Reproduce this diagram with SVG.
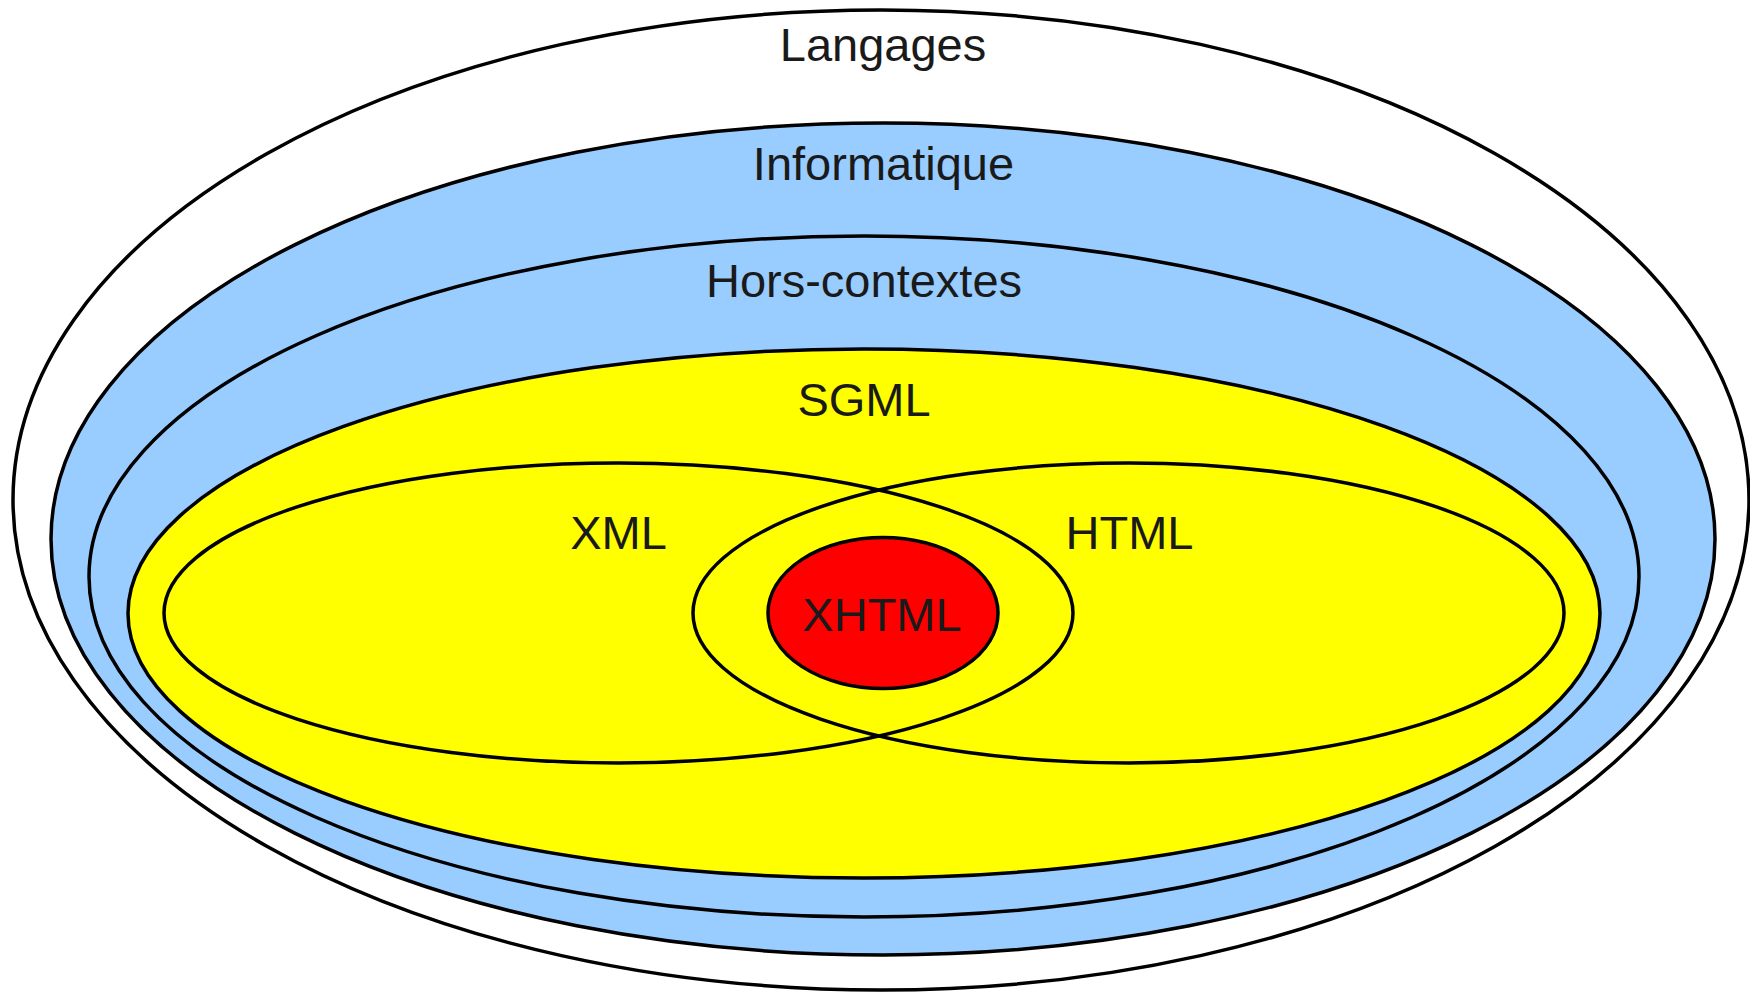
<svg xmlns="http://www.w3.org/2000/svg" width="1750" height="992" viewBox="0 0 1750 992">
<style>
.e{stroke:#000;stroke-width:3.5}
.t{font-family:"Liberation Sans",Arial,sans-serif;font-size:47px;fill:#1a1a1a;text-anchor:middle}
</style>
<rect width="1750" height="992" fill="#fff"/>
<g id="langages">
<ellipse class="e" cx="881" cy="500" rx="868" ry="490" fill="#fff"/>
<text class="t" x="883" y="61">Langages</text>
</g>
<g id="informatique">
<ellipse class="e" cx="883" cy="539" rx="832" ry="416" fill="#99ccff"/>
<text class="t" x="883.5" y="180">Informatique</text>
</g>
<g id="hors-contextes">
<ellipse class="e" cx="864" cy="576.5" rx="775" ry="340.5" fill="#99ccff"/>
<text class="t" x="864" y="297">Hors-contextes</text>
</g>
<g id="sgml">
<ellipse class="e" cx="864" cy="613.5" rx="736" ry="264.5" fill="#ffff00"/>
<text class="t" x="864" y="416">SGML</text>
</g>
<g id="xml">
<ellipse class="e" cx="618.5" cy="613" rx="454.5" ry="150" fill="none"/>
<text class="t" x="618.5" y="549">XML</text>
</g>
<g id="html">
<ellipse class="e" cx="1128.5" cy="613" rx="435.5" ry="150" fill="none"/>
<text class="t" x="1129.5" y="549">HTML</text>
</g>
<g id="xhtml">
<ellipse class="e" cx="883" cy="613" rx="115" ry="75.5" fill="#ff0000"/>
<text class="t" x="882" y="631">XHTML</text>
</g>
<g id="connectors"></g>
</svg>
